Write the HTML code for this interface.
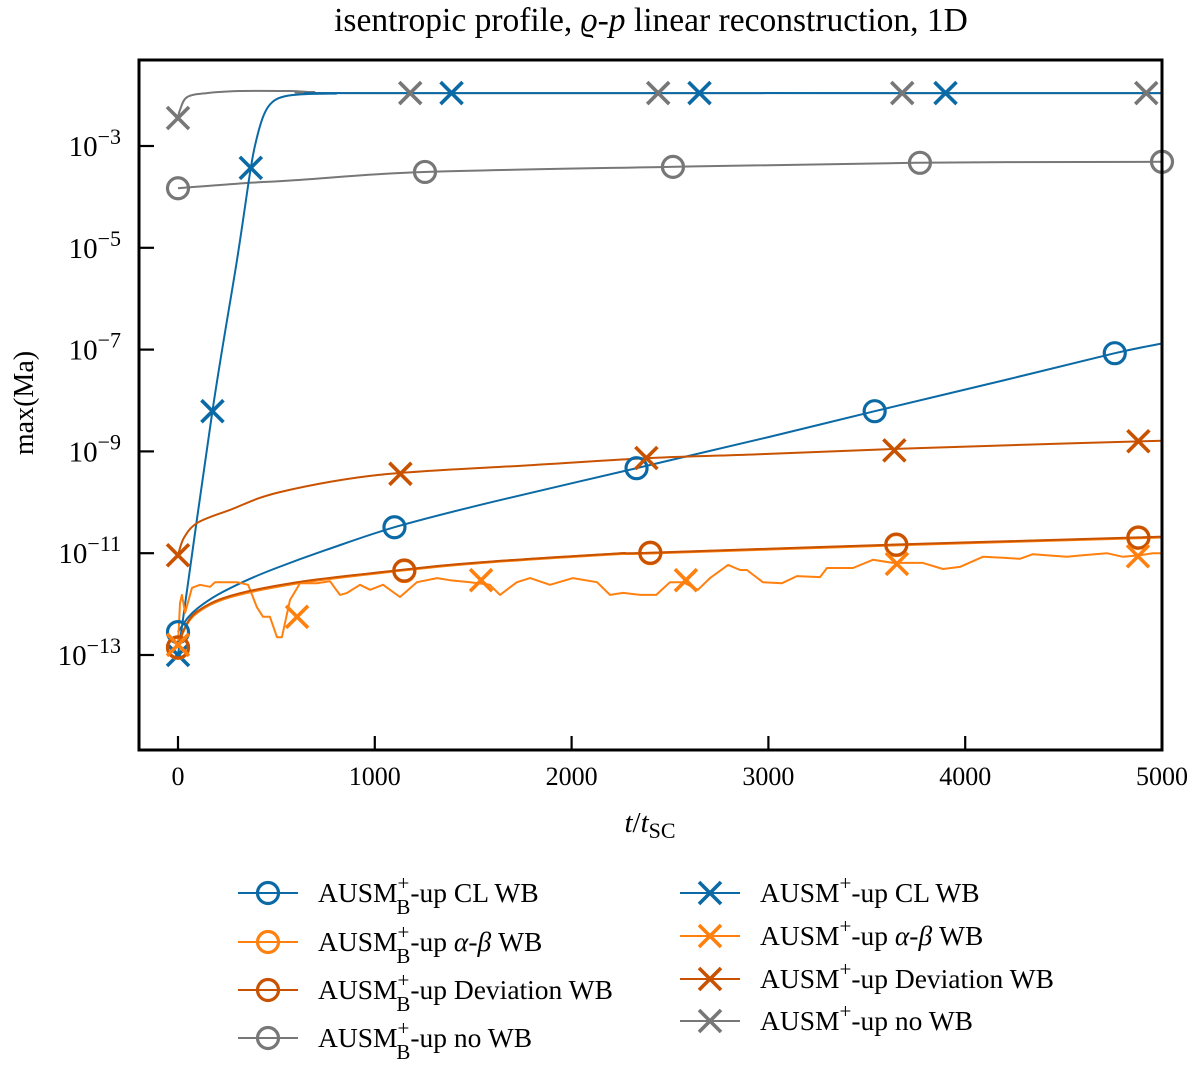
<!DOCTYPE html>
<html><head><meta charset="utf-8"><style>
html,body{margin:0;padding:0;background:#fff}
svg text{font-family:"Liberation Serif",serif;fill:#000}
</style></head><body>
<svg id="chart" width="1200" height="1070" xmlns="http://www.w3.org/2000/svg">
<text x="651" y="31" font-size="33.5" text-anchor="middle">isentropic profile, <tspan font-style="italic">ϱ</tspan>-<tspan font-style="italic">p</tspan> linear reconstruction, 1D</text>
<g id="plot"></g>
<g id="axes"></g>
<text transform="translate(33,403) rotate(-90)" font-size="28" text-anchor="middle">max(Ma)</text>
<text x="650" y="832" font-size="29" text-anchor="middle"><tspan font-style="italic">t</tspan>/<tspan font-style="italic">t</tspan><tspan font-size="22" dy="6">SC</tspan></text>
<g id="legend"></g>
</svg>
<script>
const xTicks=[0,1000,2000,3000,4000,5000];
const yTicks=[-3,-5,-7,-9,-11,-13];
const blueCircT=[0,50,100,200,350,500,750,1100,1600,2330,3000,3540,4200,4760,5000];
const blueCircV=[-12.55,-12.27,-12.08,-11.82,-11.53,-11.29,-10.94,-10.49,-9.99,-9.33,-8.72,-8.21,-7.60,-7.07,-6.88];
const blueCircMT=[0,1100,2330,3540,4760];
const blueCircMV=[-12.55,-10.49,-9.33,-8.21,-7.07];
const blueXT=[0,175,300,370,400,430,460,500,560,650,800,1000,5000];
const blueXV=[-13.0,-8.21,-5.24,-3.43,-2.85,-2.45,-2.22,-2.08,-2.01,-1.98,-1.97,-1.96,-1.96];
const blueXMT=[0,175,370,1390,2650,3900];
const blueXMV=[-13.0,-8.21,-3.43,-1.96,-1.96,-1.96];
const devXT=[0,30,100,264,518,1026,1800,2400,3000,3640,4300,5000];
const devXV=[-11.04,-10.70,-10.40,-10.15,-9.80,-9.46,-9.27,-9.13,-9.05,-8.95,-8.87,-8.79];
const devXMT=[0,1130,2380,3640,4880];
const devXMV=[-11.04,-9.44,-9.13,-8.98,-8.80];
const abCircT=[0,30,96,264,605,1062,1500,2210,2400,3650,4880,5000];
const abCircV=[-12.86,-12.51,-12.17,-11.86,-11.59,-11.37,-11.20,-11.02,-11.0,-10.84,-10.70,-10.68];
const abCircMT=[0,1150,2400,3650,4880];
const abCircMV=[-12.86,-11.35,-11.0,-10.84,-10.70];
const devCircV=[-12.85,-12.50,-12.15,-11.84,-11.57,-11.36,-11.19,-11.01,-10.99,-10.83,-10.69,-10.67];
const devCircMV=[-12.85,-11.34,-10.99,-10.83,-10.69];
const abXT=[0,10,20,36,71,112,163,188,300,356,401,432,467,503,528,569,620,706,772,823,859,925,976,1042,1128,1214,1316,1382,1484,1585,1636,1722,1789,1890,2007,2129,2195,2261,2350,2430,2500,2566,2642,2703,2795,2856,2891,2972,3069,3145,3262,3298,3430,3531,3633,3785,3887,3973,4090,4192,4278,4344,4481,4517,4598,4720,4802,4888,4954,5000];
const abXV=[-12.80,-11.98,-11.82,-12.17,-11.68,-11.62,-11.66,-11.57,-11.57,-11.62,-12.06,-12.25,-12.25,-12.65,-12.65,-11.92,-11.59,-11.59,-11.55,-11.82,-11.78,-11.62,-11.72,-11.62,-11.86,-11.57,-11.49,-11.53,-11.57,-11.62,-11.82,-11.57,-11.49,-11.62,-11.49,-11.57,-11.82,-11.78,-11.82,-11.82,-11.57,-11.57,-11.72,-11.49,-11.23,-11.33,-11.33,-11.57,-11.59,-11.45,-11.47,-11.29,-11.29,-11.13,-11.19,-11.19,-11.31,-11.27,-11.07,-11.09,-11.11,-11.02,-11.06,-11.07,-11.04,-11.00,-11.07,-11.04,-11.00,-11.00];
const abXMT=[0,605,1540,2581,3653,4878];
const abXMV=[-12.80,-12.25,-11.53,-11.53,-11.21,-11.06];
const grayCircT=[0,300,600,1250,2500,3750,5000];
const grayCircV=[-3.83,-3.74,-3.67,-3.51,-3.41,-3.33,-3.31];
const grayCircMT=[0,1255,2515,3770,5000];
const grayCircMV=[-3.83,-3.51,-3.41,-3.33,-3.31];
const grayXT=[0,10,46,147,315,569,686,1000,5000];
const grayXV=[-2.45,-2.29,-2.04,-1.96,-1.92,-1.92,-1.94,-1.96,-1.96];
const grayXMT=[0,1180,2440,3680,4920];
const grayXMV=[-2.45,-1.96,-1.96,-1.96,-1.96];

const L=139,R=1162,T=60,B=750;
const X=t=>178+t*(1162-178)/5000;
const Y=v=>146+(-3-v)*50.9;
const NS='http://www.w3.org/2000/svg';
const C={blue:'#0b6aa5',orange:'#ff800e',dark:'#c85200',gray:'#777777'};
function mk(tag,attrs,parent){const e=document.createElementNS(NS,tag);for(const k in attrs)e.setAttribute(k,attrs[k]);parent.appendChild(e);return e;}
const plot=document.getElementById('plot');
const clip=mk('clipPath',{id:'clp'},plot);mk('rect',{x:L,y:T,width:R-L,height:B-T},clip);
const pg=mk('g',{'clip-path':'url(#clp)'},plot);
function smoothPath(pts){
  let d='M'+pts[0][0].toFixed(1)+','+pts[0][1].toFixed(1);
  for(let i=0;i<pts.length-1;i++){
    const p0=pts[Math.max(0,i-1)],p1=pts[i],p2=pts[i+1],p3=pts[Math.min(pts.length-1,i+2)];
    const c1=[p1[0]+(p2[0]-p0[0])/6,p1[1]+(p2[1]-p0[1])/6],c2=[p2[0]-(p3[0]-p1[0])/6,p2[1]-(p3[1]-p1[1])/6];
    d+=' C'+c1.map(v=>v.toFixed(1)).join(',')+' '+c2.map(v=>v.toFixed(1)).join(',')+' '+p2[0].toFixed(1)+','+p2[1].toFixed(1);
  }
  return d;
}
function line(ts,vs,col,name,w,smooth){
  const pts=ts.map((t,i)=>[X(t),Y(vs[i])]);
  const d=smooth?smoothPath(pts):'M'+pts.map(p=>p[0].toFixed(1)+','+p[1].toFixed(1)).join(' L');
  const p=mk('path',{d:d,fill:'none',stroke:col,'stroke-width':w||2,'stroke-linejoin':'round'},pg);
  
  
}
function circ(cx,cy,col,parent){return mk('circle',{cx:cx,cy:cy,r:10.5,fill:'none',stroke:col,'stroke-width':3.2},parent);}
function cross(cx,cy,col,parent){const g=mk('g',{stroke:col,'stroke-width':3.6},parent);const s=11;mk('line',{x1:cx-s,y1:cy-s,x2:cx+s,y2:cy+s},g);mk('line',{x1:cx-s,y1:cy+s,x2:cx+s,y2:cy-s},g);return g;}
function markers(ts,vs,col,type,name){
  ts.forEach((t,i)=>{const m=type==='o'?circ(X(t),Y(vs[i]),col,plot):cross(X(t),Y(vs[i]),col,plot);
    
    });
}
line(grayCircT,grayCircV,C.gray,'line-ausmb-no-wb',2,true);
line(grayXT,grayXV,C.gray,'line-ausm-no-wb',2,true);
line(blueXT,blueXV,C.blue,'line-ausm-cl-wb',2,true);
line(blueCircT,blueCircV,C.blue,'line-ausmb-cl-wb',2,true);
line(devXT,devXV,C.dark,'line-ausm-deviation-wb',2,true);
line(abXT,abXV,C.orange,'line-ausm-alpha-beta-wb',2,false);
line(abCircT,abCircV,C.orange,'line-ausmb-alpha-beta-wb',2.6,true);
line(abCircT,devCircV,C.dark,'line-ausmb-deviation-wb',2,true);
markers(grayCircMT,grayCircMV,C.gray,'o','marker-ausmb-no-wb');
markers(grayXMT,grayXMV,C.gray,'x','marker-ausm-no-wb');
markers(blueCircMT,blueCircMV,C.blue,'o','marker-ausmb-cl-wb');
markers(blueXMT,blueXMV,C.blue,'x','marker-ausm-cl-wb');
markers(devXMT,devXMV,C.dark,'x','marker-ausm-deviation-wb');
markers(abCircMT,abCircMV,C.orange,'o','marker-ausmb-alpha-beta-wb');
markers(abCircMT,devCircMV,C.dark,'o','marker-ausmb-deviation-wb');
markers(abXMT,abXMV,C.orange,'x','marker-ausm-alpha-beta-wb');

const ax=document.getElementById('axes');
const fr=mk('rect',{x:L,y:T,width:R-L,height:B-T,fill:'none',stroke:'#000','stroke-width':3},ax);


xTicks.forEach(t=>{
  mk('line',{x1:X(t),y1:B,x2:X(t),y2:B-14,stroke:'#000','stroke-width':2.2},ax);
  const tx=mk('text',{x:X(t),y:785,'font-size':26,'text-anchor':'middle'},ax);tx.textContent=t;
  
  
});
yTicks.forEach(v=>{
  mk('line',{x1:L,y1:Y(v),x2:L+15,y2:Y(v),stroke:'#000','stroke-width':2.2},ax);
  const tx=mk('text',{x:121,y:Y(v)+10,'font-size':29,'text-anchor':'end'},ax);
  tx.innerHTML='10<tspan font-size="22" dy="-12">−'+(-v)+'</tspan>';
  
  
});

const lg=document.getElementById('legend');
const left=[['CL WB',C.blue,893],['<tspan font-style="italic">α</tspan>-<tspan font-style="italic">β</tspan> WB',C.orange,942],['Deviation WB',C.dark,990],['no WB',C.gray,1038]];
left.forEach(r=>{
  const g=mk('g',{},lg);
  
  
  mk('line',{x1:238,y1:r[2],x2:298,y2:r[2],stroke:r[1],'stroke-width':2},g);
  circ(268,r[2],r[1],g);
  const t=mk('text',{x:318,y:r[2]+9,'font-size':27.5},g);
  t.innerHTML='AUSM<tspan font-size="21" dy="-12">+</tspan><tspan font-size="21" dx="-13" dy="24">B</tspan><tspan dy="-12">-up '+r[0]+'</tspan>';
});
const right=[['CL WB',C.blue,893],['<tspan font-style="italic">α</tspan>-<tspan font-style="italic">β</tspan> WB',C.orange,936],['Deviation WB',C.dark,979],['no WB',C.gray,1021]];
right.forEach(r=>{
  const g=mk('g',{},lg);
  
  
  mk('line',{x1:680,y1:r[2],x2:740,y2:r[2],stroke:r[1],'stroke-width':2},g);
  cross(710,r[2],r[1],g);
  const t=mk('text',{x:760,y:r[2]+9,'font-size':27.5},g);
  t.innerHTML='AUSM<tspan font-size="21" dy="-12">+</tspan><tspan dy="12">-up '+r[0]+'</tspan>';
});
</script>
</body></html>
